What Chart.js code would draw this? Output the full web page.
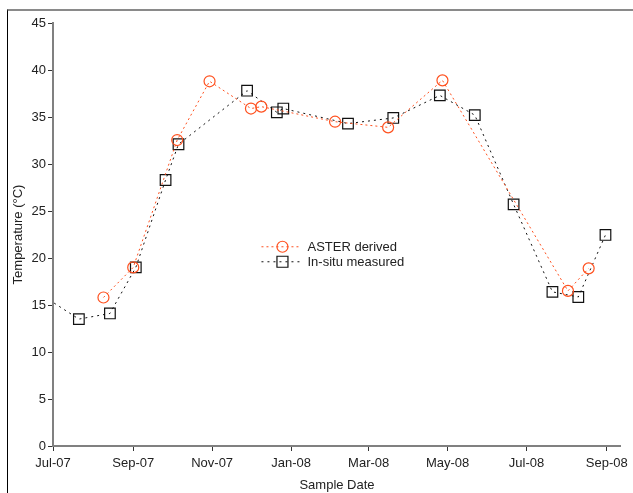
<!DOCTYPE html>
<html>
<head>
<meta charset="utf-8">
<script src="https://cdn.jsdelivr.net/npm/chart.js@4.4.1/dist/chart.umd.min.js"></script>
<style>
  body { margin: 0; background: #fff; }
  #wrap { position: relative; width: 633px; height: 493px; }
  #frame { position: absolute; left: 7px; top: 9px; right: -5px; bottom: -5px;
           border-top: 2px solid #8a8a8a; border-left: 1px solid #000; }
  canvas { position: absolute; left: 0; top: 0; }
</style>
</head>
<body>
<div id="wrap">
  <div id="frame"></div>
  <canvas id="temp" width="633" height="493"></canvas>
</div>
<script>
// sample dates and temperatures
var asterDates = ['2007-08-09', '2007-09-01', '2007-10-05', '2007-10-30', '2007-12-01', '2007-12-09',
                  '2008-02-04', '2008-03-16', '2008-04-27', '2008-08-02', '2008-08-18'];
var asterTemps = [15.8, 19.0, 32.55, 38.8, 35.9, 36.1, 34.5, 33.9, 38.9, 16.5, 18.9];

var insituDates = ['2007-06-28', '2007-07-21', '2007-08-14', '2007-09-03', '2007-09-26', '2007-10-06',
                   '2007-11-28', '2007-12-21', '2007-12-26', '2008-02-14', '2008-03-20', '2008-04-25',
                   '2008-05-22', '2008-06-21', '2008-07-21', '2008-08-10', '2008-08-31'];
var insituTemps = [15.55, 13.5, 14.1, 19.0, 28.3, 32.1, 37.8, 35.5, 35.9, 34.3, 34.9, 37.3,
                   35.2, 25.7, 16.4, 15.85, 22.45];

var tickDates = ['2007-07-01', '2007-09-01', '2007-11-01', '2008-01-01', '2008-03-01', '2008-05-01', '2008-07-01', '2008-09-01'];
var tickLabels = ['Jul-07', 'Sep-07', 'Nov-07', 'Jan-08', 'Mar-08', 'May-08', 'Jul-08', 'Sep-08'];

var ORANGE = 'rgb(255, 80, 30)';
var BLACK = '#111';

function dayOf(s) {
    var p = s.split('-');
    return (Date.UTC(+p[0], +p[1] - 1, +p[2]) - Date.UTC(2007, 6, 1)) / 86400000;
}
function toPoints(dates, temps) {
    return dates.map(function(d, i) { return { x: dayOf(d), y: temps[i] }; });
}
var tickDays = tickDates.map(dayOf);

// legend drawn inside the plot, like the original
var innerLegend = {
    id: 'innerLegend',
    afterDatasetsDraw: function(chart) {
        var ctx = chart.ctx, a = chart.chartArea;
        var x0 = a.left + (a.right - a.left) * 0.367;
        var y0 = a.top + (a.bottom - a.top) * 0.529;
        ctx.save();
        chart.data.datasets.forEach(function(ds, i) {
            var y = y0 + i * 15;
            ctx.strokeStyle = ds.borderColor;
            ctx.lineWidth = 1;
            ctx.setLineDash(ds.borderDash);
            ctx.beginPath();
            ctx.moveTo(x0, y);
            ctx.lineTo(x0 + 40, y);
            ctx.stroke();
            ctx.setLineDash([]);
            ctx.lineWidth = 1.2;
            ctx.beginPath();
            if (ds.pointStyle === 'circle') {
                ctx.arc(x0 + 21, y, ds.pointRadius, 0, Math.PI * 2);
            } else {
                ctx.rect(x0 + 21 - 5.5, y - 5.5, 11, 11);
            }
            ctx.stroke();
            ctx.fillStyle = '#222';
            ctx.font = '13px "Liberation Sans", Arial, sans-serif';
            ctx.textBaseline = 'middle';
            ctx.fillText(ds.label, x0 + 46, y + 1);
        });
        ctx.restore();
    }
};

window.onload = function() {
    var ctx = document.getElementById('temp').getContext('2d');
    Chart.defaults.font.family = '"Liberation Sans", Arial, sans-serif';
    Chart.defaults.font.size = 13;
    Chart.defaults.color = '#222';
    window.tempChart = new Chart(ctx, {
        type: 'line',
        data: {
            datasets: [{
                label: 'ASTER derived',
                data: toPoints(asterDates, asterTemps),
                borderColor: ORANGE,
                borderWidth: 1,
                borderDash: [2, 3],
                pointStyle: 'circle',
                pointRadius: 5.5,
                pointBorderColor: ORANGE,
                pointBackgroundColor: 'rgba(0,0,0,0)',
                pointBorderWidth: 1.2,
                fill: false,
                tension: 0
            }, {
                label: 'In-situ measured',
                data: toPoints(insituDates, insituTemps),
                borderColor: BLACK,
                borderWidth: 1,
                borderDash: [2, 4],
                pointStyle: 'rect',
                pointRadius: insituDates.map(function(d, i) { return i === 0 ? 0 : 7.5; }),
                pointBorderColor: BLACK,
                pointBackgroundColor: 'rgba(0,0,0,0)',
                pointBorderWidth: 1.2,
                fill: false,
                tension: 0
            }]
        },
        options: {
            responsive: false,
            animation: false,
            layout: { padding: { top: 23, right: 11, left: 0, bottom: 0 } },
            plugins: { legend: { display: false }, tooltip: { enabled: false } },
            scales: {
                x: {
                    type: 'linear',
                    min: 0,
                    max: 439,
                    afterBuildTicks: function(scale) {
                        scale.ticks = tickDays.map(function(v) { return { value: v }; });
                    },
                    afterFit: function(scale) { scale.height = 47; },
                    ticks: {
                        autoSkip: false,
                        maxRotation: 0,
                        padding: 5,
                        callback: function(v) {
                            var i = tickDays.indexOf(v);
                            return i >= 0 ? tickLabels[i] : '';
                        }
                    },
                    grid: { drawOnChartArea: false, tickLength: 5, tickColor: '#333' },
                    border: { color: '#808080', width: 2 },
                    title: { display: true, text: 'Sample Date', padding: { top: 2, bottom: 0 } }
                },
                y: {
                    min: 0,
                    max: 45,
                    afterFit: function(scale) { scale.width = 53; },
                    ticks: { stepSize: 5, padding: 2 },
                    grid: { drawOnChartArea: false, tickLength: 5, tickColor: '#333' },
                    border: { color: '#808080', width: 2 },
                    title: { display: true, text: 'Temperature (°C)', padding: { top: 11, bottom: 0 } }
                }
            }
        },
        plugins: [innerLegend]
    });
};
</script>
</body>
</html>
